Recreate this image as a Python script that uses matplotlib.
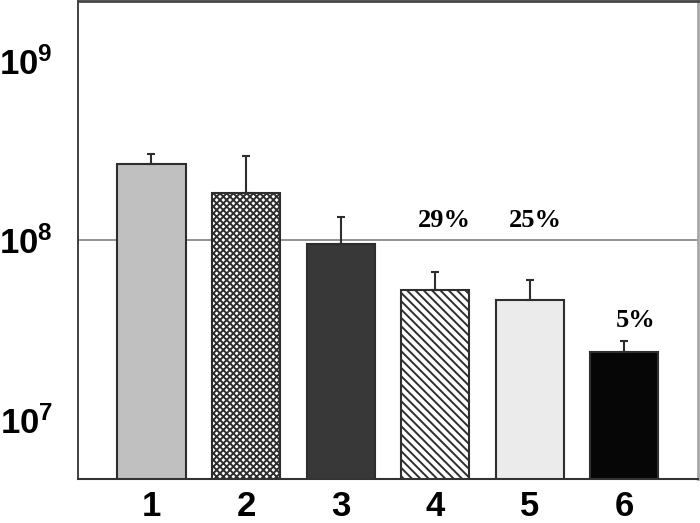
import matplotlib
matplotlib.use("Agg")
import matplotlib.pyplot as plt
import numpy as np

plt.rcParams['mathtext.fontset'] = 'custom'
plt.rcParams['mathtext.bf'] = 'Liberation Sans:bold'
plt.rcParams['mathtext.rm'] = 'Liberation Sans:bold'
plt.rcParams['hatch.linewidth'] = 1.4

categories = ['1', '2', '3', '4', '5', '6']
values = [2.69e8, 1.85e8, 9.5e7, 5.26e7, 4.63e7, 2.38e7]
err_upper = [3.6e7, 1.13e8, 4.1e7, 1.38e7, 1.35e7, 3.6e6]
percent_labels = {3: '29%', 4: '25%', 5: '5%'}
ref_level = 1e8
ytick_vals = [1e7, 1e8, 1e9]
ytick_labels = [r'$\mathbf{10^{7}}$', r'$\mathbf{10^{8}}$', r'$\mathbf{10^{9}}$']

face_colors = ['#c0c0c0', 'white', '#383838', 'white', '#ebebeb', '#060606']
hatches = [None, 'xxxxx', None, '\\\\\\\\', None, None]

fig = plt.figure(figsize=(7.0, 5.23), dpi=100)
ax = fig.add_axes([0.1114, 0.0841, 0.8856, 0.9139])

ax.set_yscale('log')
ax.set_ylim(10 ** 6.668, 10 ** 9.337)
x = np.arange(len(categories))
ax.set_xlim(-0.777, len(categories) - 1 + 0.777)

ax.axhline(ref_level, color='#8a8a8a', lw=1.3, zorder=1)

for i in range(len(categories)):
    ax.bar(x[i], values[i], width=0.72, color=face_colors[i], edgecolor='#2e2e2e',
           linewidth=1.5, hatch=hatches[i], zorder=2)

ax.errorbar(x, values, yerr=[np.zeros(len(values)), err_upper], fmt='none',
            ecolor='#2e2e2e', elinewidth=1.5, capsize=3, capthick=1.5, zorder=3)

# percentage annotations
for idx, txt in percent_labels.items():
    top = values[idx] + err_upper[idx]
    if idx == 5:
        ax.annotate(txt, (x[idx], top), xytext=(8, 15), textcoords='offset points',
                    ha='center', va='center', fontsize=19, fontweight='bold',
                    family='Liberation Serif')
    else:
        dx = 0.10 if idx == 3 else 0.06
        ax.text(x[idx] + dx, 1.29e8, txt, ha='center', va='center', fontsize=19,
                fontweight='bold', family='Liberation Serif')

ax.set_xticks(x)
ax.set_xticklabels(categories, fontsize=25, fontweight='bold', family='Liberation Sans')
ax.set_yticks(ytick_vals)
ax.set_yticklabels(ytick_labels, fontsize=25)
ax.yaxis.set_minor_locator(matplotlib.ticker.NullLocator())
ax.tick_params(axis='y', length=0, pad=18)
ax.tick_params(axis='x', length=0, pad=8)

ax.spines['left'].set_color('#333333')
ax.spines['left'].set_linewidth(1.3)
ax.spines['bottom'].set_color('#333333')
ax.spines['bottom'].set_linewidth(1.5)
ax.spines['top'].set_color('#444444')
ax.spines['top'].set_linewidth(2.0)
ax.spines['right'].set_color('#a8a8a8')
ax.spines['right'].set_linewidth(2.0)

fig.savefig('out.png', dpi=100)
